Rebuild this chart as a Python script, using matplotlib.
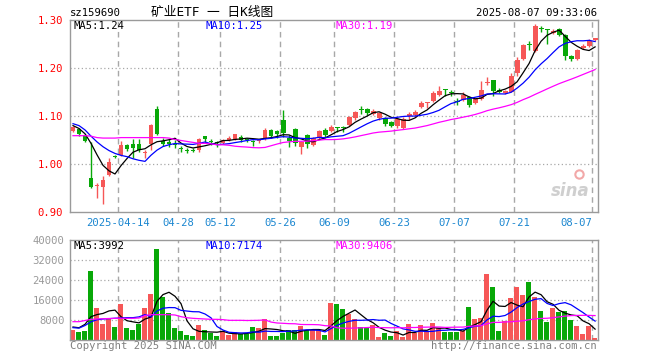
import matplotlib
matplotlib.use("Agg")
import matplotlib.pyplot as plt
import numpy as np
import pandas as pd

plt.rcParams['font.family'] = ['DejaVu Sans Mono', 'Noto Sans CJK SC']

# ---------------- data ----------------
apr = [1, 2, 3, 7, 8, 9, 10, 11, 14, 15, 16, 17, 18, 21, 22, 23, 24, 25, 28, 29, 30]
may = [6, 7, 8, 9, 12, 13, 14, 15, 16, 19, 20, 21, 22, 23, 26, 27, 28, 29, 30]
jun = [3, 4, 5, 6, 9, 10, 11, 12, 13, 16, 17, 18, 19, 20, 23, 24, 25, 26, 27, 30]
jul = [1, 2, 3, 4, 7, 8, 9, 10, 11, 14, 15, 16, 17, 18, 21, 22, 23, 24, 25, 28, 29, 30, 31]
aug = [1, 4, 5, 6, 7]
dates = ([f"2025-04-{d:02d}" for d in apr] + [f"2025-05-{d:02d}" for d in may] +
         [f"2025-06-{d:02d}" for d in jun] + [f"2025-07-{d:02d}" for d in jul] +
         [f"2025-08-{d:02d}" for d in aug])

opens = [1.069, 1.072, 1.060, 0.971, 0.955, 0.953, 0.977, 1.016, 1.019, 1.040,
         1.042, 1.042, 1.023, 1.041, 1.114, 1.048, 1.046, 1.042, 1.032, 1.029,
         1.029, 1.029, 1.058, 1.048, 1.044, 1.043, 1.049, 1.052, 1.057, 1.052,
         1.046, 1.048, 1.052, 1.071, 1.069, 1.092, 1.055, 1.073, 1.036, 1.060,
         1.040, 1.054, 1.071, 1.068, 1.076, 1.077, 1.081, 1.095, 1.113, 1.115,
         1.105, 1.095, 1.095, 1.088, 1.079, 1.076, 1.100, 1.102, 1.118, 1.127,
         1.132, 1.144, 1.156, 1.149, 1.131, 1.133, 1.140, 1.127, 1.136, 1.168,
         1.174, 1.155, 1.147, 1.151, 1.190, 1.219, 1.248, 1.235, 1.282, 1.281,
         1.272, 1.281, 1.269, 1.224, 1.218, 1.242, 1.245, 1.258]
highs = [1.079, 1.074, 1.062, 1.045, 0.960, 0.974, 1.012, 1.018, 1.048, 1.041,
         1.052, 1.052, 1.029, 1.083, 1.121, 1.055, 1.053, 1.050, 1.037, 1.034,
         1.033, 1.054, 1.059, 1.053, 1.048, 1.052, 1.058, 1.063, 1.060, 1.055,
         1.051, 1.050, 1.074, 1.072, 1.070, 1.112, 1.060, 1.074, 1.048, 1.062,
         1.057, 1.070, 1.076, 1.081, 1.078, 1.080, 1.101, 1.111, 1.121, 1.117,
         1.114, 1.109, 1.097, 1.090, 1.095, 1.097, 1.109, 1.112, 1.132, 1.130,
         1.152, 1.163, 1.157, 1.154, 1.137, 1.149, 1.142, 1.137, 1.172, 1.181,
         1.175, 1.158, 1.155, 1.190, 1.223, 1.249, 1.257, 1.292, 1.287, 1.281,
         1.281, 1.283, 1.270, 1.228, 1.240, 1.251, 1.261, 1.263]
lows = [1.067, 1.059, 1.045, 0.950, 0.930, 0.916, 0.975, 1.012, 1.017, 1.027,
        1.013, 1.024, 1.012, 1.029, 1.060, 1.037, 1.035, 1.033, 1.026, 1.022,
        1.024, 1.026, 1.043, 1.040, 1.035, 1.042, 1.047, 1.050, 1.045, 1.045,
        1.038, 1.043, 1.050, 1.055, 1.055, 1.057, 1.036, 1.038, 1.021, 1.033,
        1.038, 1.052, 1.057, 1.066, 1.067, 1.067, 1.080, 1.091, 1.104, 1.102,
        1.102, 1.092, 1.079, 1.078, 1.076, 1.072, 1.092, 1.098, 1.116, 1.117,
        1.130, 1.142, 1.141, 1.142, 1.123, 1.131, 1.119, 1.124, 1.134, 1.165,
        1.142, 1.147, 1.145, 1.149, 1.184, 1.216, 1.237, 1.233, 1.274, 1.249,
        1.270, 1.266, 1.216, 1.215, 1.216, 1.240, 1.244, 1.257]
closes = [1.077, 1.062, 1.047, 0.953, 0.957, 0.967, 1.005, 1.014, 1.040, 1.031,
          1.033, 1.030, 1.025, 1.081, 1.063, 1.042, 1.042, 1.040, 1.031, 1.027,
          1.027, 1.053, 1.052, 1.046, 1.043, 1.050, 1.055, 1.062, 1.051, 1.051,
          1.045, 1.049, 1.071, 1.058, 1.063, 1.064, 1.047, 1.043, 1.045, 1.041,
          1.055, 1.069, 1.061, 1.078, 1.075, 1.076, 1.097, 1.108, 1.112, 1.106,
          1.111, 1.107, 1.083, 1.080, 1.093, 1.093, 1.105, 1.109, 1.128, 1.128,
          1.147, 1.153, 1.155, 1.148, 1.130, 1.144, 1.122, 1.135, 1.155, 1.169,
          1.153, 1.150, 1.153, 1.183, 1.217, 1.247, 1.247, 1.287, 1.281, 1.279,
          1.278, 1.269, 1.224, 1.218, 1.238, 1.245, 1.257, 1.262]
volumes = [4000, 3200, 3500, 27470, 12670, 6270, 8270, 5070, 14270, 4670,
           4000, 6270, 12670, 18270, 36270, 17330, 10930, 4670, 3470, 1870,
           1470, 5870, 3870, 2930, 1470, 3330, 2000, 3070, 2270, 2530,
           5070, 4670, 8270, 1470, 1470, 2670, 3870, 3870, 5470, 3870,
           3870, 3870, 1870, 14930, 14270, 12270, 10270, 8270, 5330, 4800,
           5870, 1070, 2670, 1470, 3470, 1200, 6270, 2670, 5870, 3330,
           6670, 4930, 3070, 3070, 3070, 3470, 13070, 8270, 8800, 26270,
           21070, 3470, 7470, 16670, 21070, 17870, 23070, 17070, 11470, 7070,
           12670, 11070, 11470, 7870, 5470, 2270, 5470, 670]

# moving-average values read at the start of the window (earlier history not shown)
ma5_head = [1.080, 1.074, 1.063, 1.043]
ma10_head = [1.084, 1.080, 1.071, 1.058, 1.046, 1.036, 1.028, 1.022, 1.018]
ma30_head = [1.059, 1.059, 1.059, 1.058, 1.055, 1.054, 1.054, 1.054, 1.055, 1.055,
             1.055, 1.055, 1.055, 1.055, 1.055, 1.055, 1.054, 1.051, 1.049, 1.047,
             1.045, 1.043, 1.043, 1.042, 1.040, 1.040, 1.039, 1.037, 1.036]
vma5_head = [5200, 4900, 6270, 9330]
vma10_head = [4930, 4750, 5800, 7300, 8100, 8400, 8530, 8700, 8800]
vma30_head = [7330, 7330, 7800, 8270, 8400, 8500, 8600, 8670, 8670, 8670,
              8670, 8800, 9800, 10130, 10130, 10130, 10130, 10000, 9330, 8900,
              8670, 8530, 8400, 8270, 8270, 8130, 7870, 7870, 7870]

tick_dates = ["2025-04-14", "2025-04-28", "2025-05-12", "2025-05-26", "2025-06-09",
              "2025-06-23", "2025-07-07", "2025-07-21", "2025-08-07"]
price_ticks = [0.90, 1.00, 1.10, 1.20, 1.30]
vol_ticks = [8000, 16000, 24000, 32000, 40000]

code_label = "sz159690"
title = "矿业ETF 一 日K线图"
stamp = "2025-08-07 09:33:06"
ma_price_labels = ["MA5:1.24", "MA10:1.25", "MA30:1.19"]
ma_vol_labels = ["MA5:3992", "MA10:7174", "MA30:9406"]
copyright_txt = "Copyright 2025 SINA.COM"
url_txt = "http://finance.sina.com.cn"


def moving_avg(values, n, head):
    s = pd.Series(values, dtype=float).rolling(n).mean().to_numpy()
    s[:n - 1] = head
    return s


# ---------------- style ----------------
RED = '#f65757'
GREEN = '#08a808'
GRID = '#a8a8a8'
FRAME = '#9a9a9a'
MA_COLORS = ['#000000', '#0000ff', '#ff00ff']
FS = 7.6

W, H = 660, 360
fig = plt.figure(figsize=(W / 100, H / 100), dpi=100)


def px_axes(l, t, r, b):
    return fig.add_axes([l / W, 1 - b / H, (r - l) / W, (b - t) / H])


ax1 = px_axes(70, 20, 597.5, 212)
ax2 = px_axes(70, 240, 597.5, 340)

o = np.array(opens)
h = np.array(highs)
lo = np.array(lows)
c = np.array(closes)
v = np.array(volumes)
x = np.arange(len(c))
up = c >= o
cols = np.where(up, RED, GREEN)

for ax in (ax1, ax2):
    ax.set_xlim(-0.5, len(c) - 0.6)
    for s in ax.spines.values():
        s.set_color(FRAME)
        s.set_linewidth(1.0)
    ax.set_facecolor('white')

tick_pos = [dates.index(d) - 0.5 for d in tick_dates]
tick_lbl = [tick_dates[0]] + [d[5:] for d in tick_dates[1:]]

# price panel
ax1.set_ylim(price_ticks[0], price_ticks[-1])
for yv in price_ticks[1:-1]:
    ax1.axhline(yv, color=GRID, lw=0.9, ls=(0, (1, 2)), zorder=0)
for xp in tick_pos:
    ax1.axvline(xp, color=GRID, lw=1.0, ls=(0, (4, 3)), zorder=0)

ax1.vlines(x, lo, h, colors=cols, lw=1.0, zorder=2)
body = np.maximum(np.abs(c - o), 0.0021)
ax1.bar(x, body, bottom=np.minimum(o, c), width=0.82, color=cols, lw=0, zorder=3)

ma5 = moving_avg(c, 5, ma5_head)
ma10 = moving_avg(c, 10, ma10_head)
ma30 = moving_avg(c, 30, ma30_head)
for m, col in zip([ma5, ma10, ma30], MA_COLORS):
    ax1.plot(x, m, color=col, lw=0.9, zorder=4)

ax1.set_yticks(price_ticks)
ax1.set_yticklabels([f"{t:.2f}" for t in price_ticks], color='#ff0000', fontsize=FS)
ax1.tick_params(axis='y', length=0, pad=5)
ax1.set_xticks(tick_pos)
ax1.set_xticklabels(tick_lbl, color='#1a86d0', fontsize=FS)
ax1.tick_params(axis='x', length=0, pad=4)
ax1.get_xticklabels()[-1].set_horizontalalignment('right')

# sina watermark
ax1.text(0.985, 0.06, 'sina', transform=ax1.transAxes, ha='right', va='bottom',
         fontsize=12, color='#cfcfcf', family='DejaVu Sans', style='italic',
         weight='bold', zorder=1)
ax1.plot([0.965], [0.2], 'o', transform=ax1.transAxes, ms=6, mfc='none',
         mec='#f2a8a8', mew=1.5, zorder=1)

# volume panel
ax2.set_ylim(0, vol_ticks[-1])
for yv in vol_ticks[:-1]:
    ax2.axhline(yv, color=GRID, lw=0.9, ls=(0, (1, 2)), zorder=0)
for xp in tick_pos:
    ax2.axvline(xp, color=GRID, lw=1.0, ls=(0, (4, 3)), zorder=0)
ax2.bar(x - 0.08, v, width=0.84, color=cols, lw=0, zorder=2)
vma5 = moving_avg(v, 5, vma5_head)
vma10 = moving_avg(v, 10, vma10_head)
vma30 = moving_avg(v, 30, vma30_head)
for m, col in zip([vma5, vma10, vma30], MA_COLORS):
    ax2.plot(x, m, color=col, lw=0.9, zorder=4)
ax2.set_yticks(vol_ticks)
ax2.set_yticklabels([str(t) for t in vol_ticks], color='#999999', fontsize=FS)
ax2.tick_params(axis='y', length=0, pad=4)
ax2.set_xticks([])

# header / labels


def ftext(px, py, s, **kw):
    fig.text(px / W, 1 - py / H, s, fontsize=kw.pop('fontsize', FS), **kw)


ftext(70, 13, code_label, ha='left', va='center', color='black')
ftext(151, 12, title, ha='left', va='center', color='black', fontsize=9.2)
ftext(597, 13, stamp, ha='right', va='center', color='black')

for s, px, col in zip(ma_price_labels, [74, 205, 335], MA_COLORS):
    ftext(px, 26, s, ha='left', va='center', color=col)
for s, px, col in zip(ma_vol_labels, [74, 205, 335], MA_COLORS):
    ftext(px, 246, s, ha='left', va='center', color=col)

ftext(70, 346, copyright_txt, ha='left', va='center', color='#808080')
ftext(597, 346, url_txt, ha='right', va='center', color='#808080')

fig.savefig('out.png', dpi=100, facecolor='white')
